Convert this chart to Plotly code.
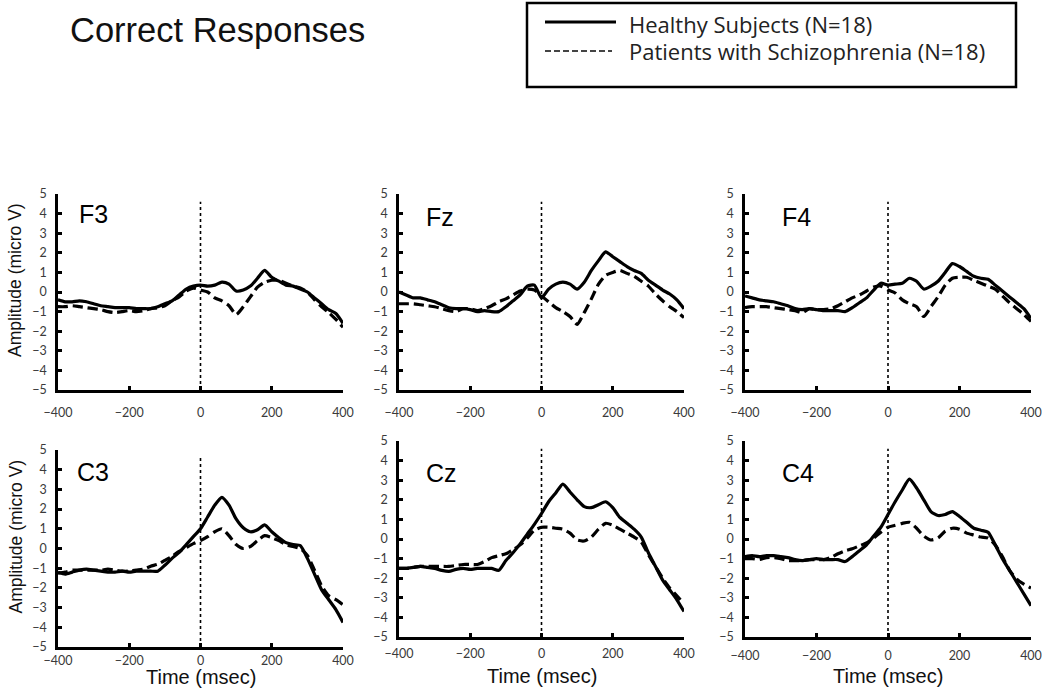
import plotly.graph_objects as go

W, H = 1050, 699

# ---------------- data ----------------
time_ms = list(range(-400, 401, 20))

f3_healthy = [-0.4, -0.5, -0.5, -0.45, -0.5, -0.6, -0.7, -0.75, -0.8, -0.8, -0.8,
              -0.85, -0.85, -0.85, -0.75, -0.6, -0.45, -0.15, 0.15, 0.3, 0.35,
              0.3, 0.35, 0.5, 0.4, 0.05, 0.1, 0.3, 0.7, 1.1, 0.75,
              0.55, 0.35, 0.3, 0.15, 0.0, -0.3, -0.6, -0.9, -1.1, -1.6]
f3_patients = [-0.75, -0.75, -0.7, -0.75, -0.8, -0.85, -0.9, -1.0, -1.05, -1.0, -0.95,
               -1.0, -0.95, -0.85, -0.8, -0.7, -0.45, -0.25, 0.05, 0.2, 0.1,
               0.0, -0.3, -0.45, -0.7, -1.15, -0.75, -0.25, 0.25, 0.5, 0.6,
               0.6, 0.45, 0.3, 0.2, 0.0, -0.4, -0.75, -1.05, -1.4, -1.8]

fz_healthy = [0.0, -0.15, -0.3, -0.3, -0.4, -0.5, -0.65, -0.8, -0.85, -0.85, -0.9,
              -1.0, -0.95, -1.0, -1.0, -0.75, -0.45, -0.15, 0.3, 0.35, -0.3,
              0.15, 0.4, 0.5, 0.4, 0.15, 0.5, 1.1, 1.6, 2.05, 1.8,
              1.55, 1.3, 1.1, 0.95, 0.6, 0.35, 0.1, -0.1, -0.4, -0.85]
fz_patients = [-0.6, -0.6, -0.6, -0.65, -0.7, -0.75, -0.85, -0.95, -1.0, -0.85, -0.85,
               -0.95, -0.85, -0.7, -0.5, -0.35, -0.15, 0.05, 0.15, 0.1, -0.2,
               -0.5, -0.8, -1.0, -1.25, -1.65, -1.05, -0.35, 0.4, 0.85, 1.0,
               1.1, 0.95, 0.8, 0.55, 0.3, -0.1, -0.45, -0.75, -1.0, -1.3]

f4_healthy = [-0.2, -0.3, -0.4, -0.45, -0.5, -0.6, -0.7, -0.85, -0.9, -0.85, -0.9,
              -0.95, -0.95, -0.95, -1.0, -0.8, -0.55, -0.3, 0.1, 0.45, 0.35,
              0.4, 0.45, 0.7, 0.55, 0.15, 0.3, 0.55, 1.0, 1.45, 1.3,
              1.05, 0.8, 0.7, 0.65, 0.35, 0.05, -0.25, -0.55, -0.85, -1.35]
f4_patients = [-0.8, -0.75, -0.75, -0.75, -0.8, -0.85, -0.9, -0.95, -1.05, -0.85, -0.9,
               -0.9, -0.85, -0.7, -0.5, -0.3, -0.15, 0.05, 0.25, 0.3, 0.1,
               -0.05, -0.4, -0.6, -0.75, -1.25, -0.75, -0.25, 0.35, 0.7, 0.75,
               0.75, 0.6, 0.45, 0.3, 0.15, -0.2, -0.55, -0.85, -1.15, -1.5]

c3_healthy = [-1.2, -1.3, -1.2, -1.1, -1.05, -1.1, -1.15, -1.2, -1.2, -1.15, -1.2,
              -1.15, -1.15, -1.15, -1.15, -0.85, -0.5, -0.2, 0.2, 0.6, 1.0,
              1.6, 2.2, 2.6, 2.2, 1.5, 1.05, 0.85, 0.95, 1.2, 0.85,
              0.55, 0.3, 0.2, 0.15, -0.5, -1.3, -2.1, -2.6, -3.1, -3.75]
c3_patients = [-1.25, -1.2, -1.1, -1.1, -1.1, -1.1, -1.1, -1.05, -1.1, -1.15, -1.15,
               -1.1, -1.05, -0.9, -0.8, -0.6, -0.4, -0.15, 0.05, 0.25, 0.4,
               0.6, 0.85, 1.0, 0.65, 0.2, 0.0, 0.1, 0.4, 0.65, 0.55,
               0.4, 0.2, 0.1, 0.0, -0.35, -1.1, -1.9, -2.4, -2.6, -2.85]

cz_healthy = [-1.5, -1.5, -1.45, -1.4, -1.45, -1.5, -1.6, -1.65, -1.55, -1.5, -1.55,
              -1.5, -1.5, -1.5, -1.6, -1.1, -0.7, -0.25, 0.25, 0.75, 1.3,
              1.9, 2.35, 2.8, 2.4, 2.0, 1.65, 1.6, 1.75, 1.9, 1.6,
              1.1, 0.8, 0.5, 0.1, -0.7, -1.4, -2.1, -2.6, -3.1, -3.7]
cz_patients = [-1.5, -1.5, -1.45, -1.4, -1.4, -1.4, -1.4, -1.4, -1.35, -1.3, -1.3,
               -1.3, -1.15, -0.95, -0.85, -0.75, -0.55, -0.3, 0.05, 0.45, 0.6,
               0.6, 0.55, 0.5, 0.3, -0.05, -0.1, 0.1, 0.5, 0.8, 0.7,
               0.5, 0.3, 0.1, -0.15, -0.8, -1.4, -2.0, -2.5, -2.9, -3.3]

c4_healthy = [-0.9, -0.85, -0.9, -0.85, -0.85, -0.9, -0.95, -1.05, -1.1, -1.05, -1.0,
              -1.05, -1.05, -1.05, -1.15, -0.9, -0.6, -0.3, 0.15, 0.6, 1.25,
              1.9, 2.5, 3.05, 2.6, 2.0, 1.4, 1.2, 1.25, 1.4, 1.15,
              0.85, 0.55, 0.45, 0.35, -0.3, -1.0, -1.6, -2.2, -2.8, -3.4]
c4_patients = [-1.0, -1.0, -1.05, -0.95, -0.95, -1.0, -1.1, -1.1, -1.1, -1.05, -1.05,
               -1.05, -0.95, -0.75, -0.6, -0.5, -0.35, -0.2, 0.05, 0.35, 0.6,
               0.7, 0.8, 0.85, 0.55, 0.15, -0.05, 0.05, 0.4, 0.55, 0.5,
               0.3, 0.2, 0.1, 0.05, -0.3, -0.9, -1.6, -2.05, -2.3, -2.5]

channels = ["F3", "Fz", "F4", "C3", "Cz", "C4"]
healthy = [f3_healthy, fz_healthy, f4_healthy, c3_healthy, cz_healthy, c4_healthy]
patients = [f3_patients, fz_patients, f4_patients, c3_patients, cz_patients, c4_patients]

x_ticks = [-400, -200, 0, 200, 400]
y_ticks = [-5, -4, -3, -2, -1, 0, 1, 2, 3, 4, 5]
legend_labels = ["Healthy Subjects (N=18)", "Patients with Schizophrenia (N=18)"]
title_text = "Correct Responses"
x_title = "Time (msec)"
y_title = "Amplitude (micro V)"

# ---------------- layout geometry (pixels) ----------------
def px(x):
    return x / W

def py(y):
    return 1 - y / H

# (left, right, top, bottom) in pixels for each panel
boxes = [
    (58, 343, 194, 390), (399, 684, 194, 390), (745, 1031, 194, 390),
    (58, 343, 450, 647), (399, 684, 441, 637), (745, 1031, 441, 637),
]
label_off = [(19, 20), (25, 23), (35, 23), (17, 22), (25, 32), (35, 32)]
xlab_standoff = [9, 9, 9, 0, 3, 5]
xtitle_y = [None, None, None, 677, 676, 676]

fig = go.Figure()
layout = dict(
    template="none",
    width=W, height=H, margin=dict(l=0, r=0, t=0, b=0, pad=0, autoexpand=False),
    paper_bgcolor="white", plot_bgcolor="white", showlegend=False,
    font=dict(family="Liberation Sans, Arial", color="black"),
)
annotations = []
shapes = []

tick_font = dict(family="Lato, Carlito, sans-serif", size=12.5, color="#3a3a3a")

for i, ch in enumerate(channels):
    n = "" if i == 0 else str(i + 1)
    xa, ya = "x" + n, "y" + n
    l, r, t, b = boxes[i]
    layout["xaxis" + n] = dict(
        domain=[px(l), px(r)], anchor=ya, range=[-400, 400], automargin=False,
        tickvals=x_ticks, showline=True, linecolor="black", linewidth=2.5,
        ticks="inside", ticklen=4, tickwidth=2.5, tickcolor="black",
        showgrid=False, zeroline=False, tickfont=tick_font,
        ticklabelstandoff=xlab_standoff[i],
    )
    layout["yaxis" + n] = dict(
        domain=[py(b), py(t)], anchor=xa, range=[-5, 5], automargin=False,
        tickvals=y_ticks, showline=True, linecolor="black", linewidth=2.5,
        ticks="inside", ticklen=4, tickwidth=2.5, tickcolor="black",
        showgrid=False, zeroline=False, tickfont=tick_font,
        ticklabelstandoff=6,
    )

    fig.add_trace(go.Scatter(
        x=time_ms, y=healthy[i], mode="lines", xaxis=xa, yaxis=ya,
        line=dict(color="black", width=3.2, shape="spline", smoothing=0.6),
        name=legend_labels[0],
    ))
    fig.add_trace(go.Scatter(
        x=time_ms, y=patients[i], mode="lines", xaxis=xa, yaxis=ya,
        line=dict(color="black", width=3.2, dash="10px,5px", shape="spline", smoothing=0.6),
        name=legend_labels[1],
    ))
    shapes.append(dict(
        type="line", xref=xa, yref=ya, x0=0, x1=0, y0=-5, y1=4.6,
        line=dict(color="black", width=1.6, dash="dot"),
    ))
    ox, oy = label_off[i]
    annotations.append(dict(
        text=ch, xref="paper", yref="paper", x=px(l + ox), y=py(t + oy),
        xanchor="left", yanchor="middle", showarrow=False,
        font=dict(size=25, family="Liberation Sans, Arial", color="black"),
    ))
    if i >= 3:
        annotations.append(dict(
            text=x_title, xref="paper", yref="paper", x=px((l + r) / 2), y=py(xtitle_y[i]),
            xanchor="center", yanchor="middle", showarrow=False,
            font=dict(size=20, family="Liberation Sans, Arial", color="#111111"),
        ))
    if i in (0, 3):
        annotations.append(dict(
            text=y_title, xref="paper", yref="paper", x=px(15), y=py((t + b) / 2 - 12),
            xanchor="center", yanchor="middle", showarrow=False, textangle=-90,
            font=dict(size=17.5, family="Liberation Sans, Arial", color="#111111"),
        ))

# title
annotations.append(dict(
    text=title_text, xref="paper", yref="paper", x=px(68), y=py(30),
    xanchor="left", yanchor="middle", showarrow=False,
    font=dict(size=34.5, family="Liberation Sans, Arial", color="#111111"),
))

# legend box (drawn manually)
shapes.append(dict(type="rect", xref="paper", yref="paper",
                   x0=px(527), x1=px(1016), y0=py(87), y1=py(3),
                   line=dict(color="black", width=2.5), fillcolor="rgba(0,0,0,0)"))
shapes.append(dict(type="line", xref="paper", yref="paper",
                   x0=px(545), x1=px(616), y0=py(22), y1=py(22),
                   line=dict(color="black", width=3)))
shapes.append(dict(type="line", xref="paper", yref="paper",
                   x0=px(545), x1=px(612), y0=py(51), y1=py(51),
                   line=dict(color="#444444", width=2, dash="6px,3px")))
for k, yy in enumerate([23.5, 51]):
    annotations.append(dict(
        text=legend_labels[k], xref="paper", yref="paper", x=px(627), y=py(yy),
        xanchor="left", yanchor="middle", showarrow=False,
        font=dict(size=22, family="Open Sans, Lato, sans-serif", color="#222222"),
    ))

layout["annotations"] = annotations
layout["shapes"] = shapes
fig.update_layout(**layout)
fig.write_html(
    "out.html",
    config={"displayModeBar": False},
    post_script="document.body.style.margin='0';document.body.style.overflow='hidden';"
                "document.documentElement.style.overflow='hidden';",
)
